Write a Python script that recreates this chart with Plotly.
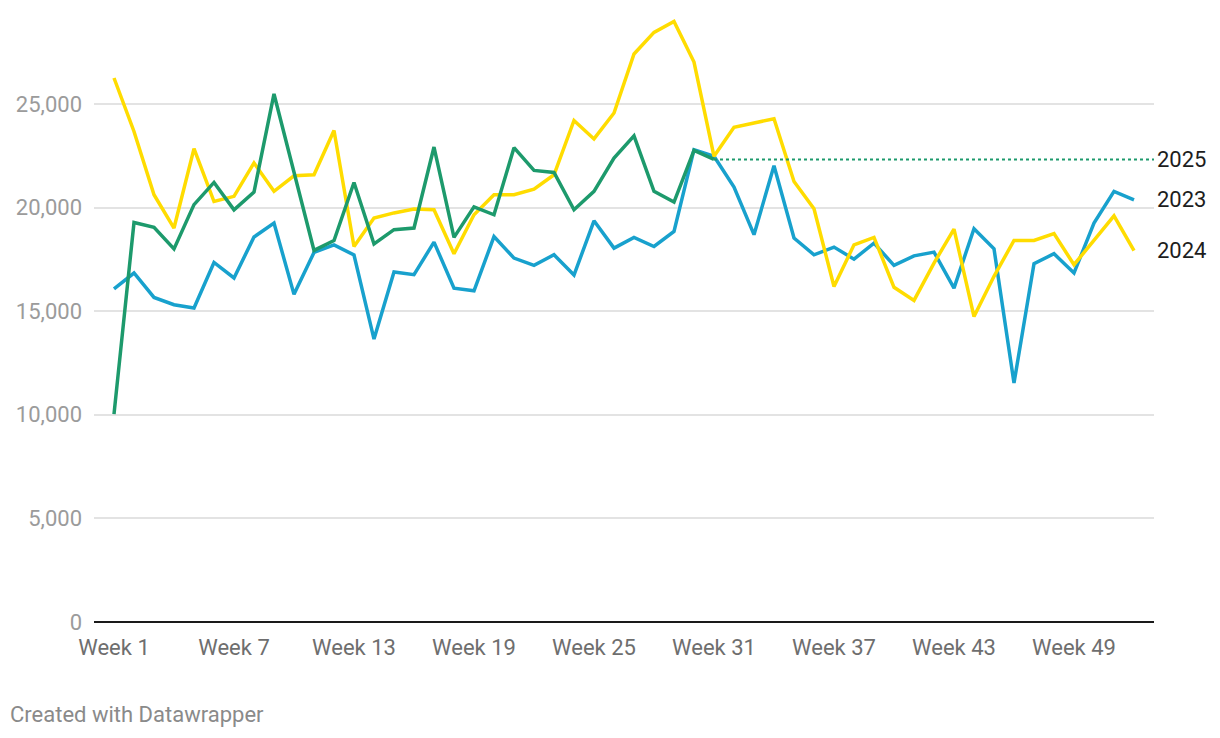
import plotly.graph_objects as go

weeks = list(range(1, 53))

values_2023 = [16080, 16840, 15660, 15310, 15150, 17350, 16600, 18580, 19250, 15810,
               17830, 18200, 17710, 13650, 16890, 16760, 18330, 16110, 15980, 18600,
               17560, 17210, 17720, 16740, 19360, 18040, 18560, 18120, 18850, 22790,
               22470, 20990, 18690, 22020, 18530, 17720, 18090, 17510, 18280, 17210,
               17670, 17850, 16110, 18980, 18010, 11530, 17290, 17770, 16840, 19250,
               20780, 20370]

values_2024 = [26250, 23670, 20620, 19010, 22840, 20290, 20540, 22150, 20780, 21530,
               21580, 23720, 18120, 19490, 19740, 19930, 19890, 17770, 19650, 20620,
               20620, 20890, 21580, 24200, 23310, 24560, 27410, 28450, 28980, 27020,
               22470, 23870, 24080, 24280, 21260, 19940, 16190, 18200, 18560, 16150,
               15520, 17320, 18960, 14740, 16680, 18410, 18410, 18740, 17240, 18440,
               19600, 17920]

values_2025 = [10030, 19280, 19040, 18000, 20140, 21210, 19890, 20750, 25480, 21650,
               17930, 18410, 21210, 18240, 18930, 19010, 22920, 18560, 20030, 19650,
               22890, 21790, 21690, 19890, 20780, 22390, 23460, 20780, 20260, 22760,
               22320]

series_names = ["2023", "2024", "2025"]
series_colors = ["#18a1cd", "#ffdc00", "#1d9a6c"]

y_ticks = [0, 5000, 10000, 15000, 20000, 25000]
y_tick_labels = ["0", "5,000", "10,000", "15,000", "20,000", "25,000"]
x_ticks = [1, 7, 13, 19, 25, 31, 37, 43, 49]
x_tick_labels = ["Week %d" % w for w in x_ticks]

X_MAX = 53

fig = go.Figure()

all_values = [values_2023, values_2024, values_2025]
for name, vals, col in zip(series_names, all_values, series_colors):
    fig.add_trace(go.Scatter(
        x=weeks[:len(vals)], y=vals, mode="lines", name=name,
        line=dict(color=col, width=3.5, shape="linear"),
        hoverinfo="x+y", showlegend=False,
    ))

# dotted continuation of the latest 2025 value
last_2025 = values_2025[-1]
fig.add_trace(go.Scatter(
    x=[len(values_2025), X_MAX], y=[last_2025, last_2025], mode="lines",
    line=dict(color=series_colors[2], width=2, dash="3px,3px"),
    hoverinfo="skip", showlegend=False,
))

# end labels
end_values = [values_2023[-1], values_2024[-1], last_2025]
for name, v in zip(series_names, end_values):
    fig.add_annotation(
        x=X_MAX, y=v, xref="x", yref="y", text=name, showarrow=False,
        xanchor="left", yanchor="middle", xshift=1,
        font=dict(family="Roboto", size=22, color="#1d1d1d"),
    )

fig.add_annotation(
    x=0, y=0, xref="paper", yref="paper", text="Created with Datawrapper",
    showarrow=False, xanchor="left", yanchor="bottom",
    xshift=-86, yshift=-107,
    font=dict(family="Roboto", size=22, color="#8a8a8a"),
)

fig.update_layout(
    width=1220, height=738,
    margin=dict(l=94, r=66, t=15, b=116),
    paper_bgcolor="white", plot_bgcolor="white",
    font=dict(family="Roboto"),
    xaxis=dict(
        range=[0, X_MAX], tickmode="array", tickvals=x_ticks, ticktext=x_tick_labels,
        showgrid=False, zeroline=False, showline=False, ticks="",
        ticklabelstandoff=10,
        tickfont=dict(family="Roboto", size=22, color="#6e6e6e"),
        fixedrange=True,
    ),
    yaxis=dict(
        range=[0, 29290], tickmode="array", tickvals=y_ticks, ticktext=y_tick_labels,
        showgrid=True, gridcolor="#e3e3e3", gridwidth=1.5,
        zeroline=True, zerolinecolor="#1a1a1a", zerolinewidth=2,
        showline=False, ticks="", ticklabelstandoff=11,
        tickfont=dict(family="Roboto", size=22, color="#9b9b9b"),
        fixedrange=True,
    ),
)

fig.write_html("out.html", config={"displayModeBar": False},
               post_script="document.body.style.margin='0';document.body.style.overflow='hidden';")
